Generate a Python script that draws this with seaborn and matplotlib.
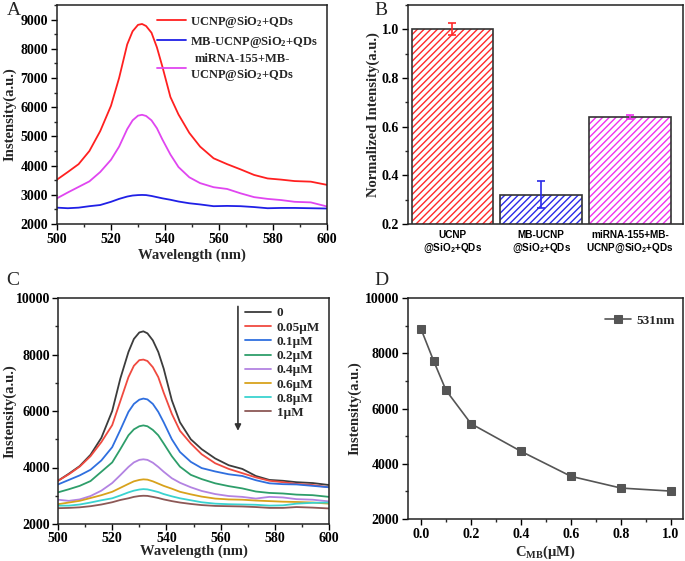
import numpy as np
import pandas as pd
import matplotlib
matplotlib.use("Agg")
import matplotlib.pyplot as plt
from matplotlib.patches import Rectangle
from matplotlib.ticker import MultipleLocator
import seaborn as sns

# wavelength grid shared by the spectra (nm)
wavelength = [500, 504, 508, 512, 516, 520, 523, 526, 528, 530, 531.5, 533, 535, 537,
              539, 542, 545, 549, 553, 558, 563, 568, 573, 578, 583, 588, 594, 600]

# panel A spectra
a_ucnp = [3520, 3780, 4050, 4500, 5180, 6050, 7000, 8150, 8600, 8820, 8850, 8780, 8550, 8050,
          7400, 6350, 5750, 5120, 4650, 4250, 4050, 3870, 3680, 3560, 3520, 3470, 3450, 3340]
a_mb = [2560, 2540, 2560, 2610, 2650, 2760, 2860, 2940, 2975, 2990, 2995, 2990, 2960, 2920,
        2880, 2830, 2770, 2710, 2670, 2610, 2620, 2610, 2580, 2540, 2550, 2550, 2540, 2530]
a_mirna = [2880, 3080, 3270, 3460, 3780, 4200, 4650, 5250, 5550, 5710, 5740, 5700, 5550, 5280,
           4900, 4380, 3950, 3600, 3400, 3260, 3200, 3050, 2920, 2860, 2820, 2760, 2740, 2600]
a_labels = ["UCNP@SiO$_2$+QDs", "MB-UCNP@SiO$_2$+QDs", "miRNA-155+MB-\nUCNP@SiO$_2$+QDs"]

# panel B normalized intensities
b_names = ["UCNP\n@SiO$_{\\mathsf{2}}$+QDs", "MB-UCNP\n@SiO$_{\\mathsf{2}}$+QDs",
           "miRNA-155+MB-\nUCNP@SiO$_{\\mathsf{2}}$+QDs"]
b_values = [1.0, 0.32, 0.64]
b_errors = [0.025, 0.055, 0.01]

# panel C spectra by concentration
c_labels = ["0", "0.05\u03bcM", "0.1\u03bcM", "0.2\u03bcM", "0.4\u03bcM", "0.6\u03bcM", "0.8\u03bcM", "1\u03bcM"]
c_0 = [3530, 3780, 4050, 4450, 5050, 6000, 7150, 8090, 8550, 8780, 8820, 8750, 8500, 8090,
       7500, 6380, 5600, 5000, 4650, 4320, 4080, 3950, 3700, 3560, 3530, 3480, 3450, 3380]
c_005 = [3530, 3760, 4030, 4400, 4900, 5500, 6350, 7200, 7600, 7800, 7820, 7770, 7550, 7200,
         6650, 5900, 5300, 4850, 4470, 4150, 3950, 3800, 3650, 3530, 3480, 3420, 3380, 3300]
c_01 = [3400, 3560, 3720, 3920, 4250, 4720, 5330, 5970, 6250, 6400, 6440, 6410, 6250, 5970,
        5600, 5000, 4550, 4200, 3980, 3860, 3760, 3700, 3550, 3440, 3410, 3400, 3350, 3300]
c_02 = [3120, 3230, 3350, 3520, 3850, 4180, 4650, 5140, 5350, 5460, 5490, 5460, 5330, 5140,
        4850, 4400, 4030, 3740, 3590, 3440, 3340, 3260, 3150, 3100, 3080, 3040, 3020, 2960]
c_04 = [2860, 2820, 2870, 2990, 3180, 3450, 3730, 4020, 4180, 4270, 4290, 4270, 4170, 4020,
        3850, 3620, 3460, 3300, 3170, 3060, 2990, 2960, 2900, 2960, 2940, 2880, 2860, 2800]
c_06 = [2700, 2760, 2820, 2920, 3020, 3140, 3280, 3420, 3510, 3560, 3580, 3570, 3510, 3430,
        3350, 3250, 3140, 3050, 2970, 2900, 2870, 2860, 2830, 2810, 2790, 2780, 2760, 2720]
c_08 = [2650, 2650, 2690, 2760, 2840, 2910, 3010, 3120, 3180, 3220, 3235, 3225, 3180, 3130,
        3060, 2980, 2910, 2840, 2770, 2720, 2700, 2690, 2680, 2650, 2660, 2720, 2750, 2760]
c_1 = [2560, 2570, 2590, 2630, 2690, 2770, 2850, 2910, 2960, 2990, 3000, 2995, 2960, 2920,
       2870, 2810, 2760, 2710, 2670, 2640, 2630, 2620, 2600, 2570, 2570, 2600, 2580, 2550]
c_colors = ["#3c3c3c", "#f04a40", "#2f6fdf", "#2e9e6a", "#b383e2", "#d8a21c", "#3ad3d0", "#8c5856"]

# panel D intensity at 531 nm
d_conc = [0.0, 0.05, 0.1, 0.2, 0.4, 0.6, 0.8, 1.0]
d_intensity = [8880, 7735, 6660, 5450, 4450, 3545, 3120, 3010]

sns.set_style("ticks")
plt.rcParams["font.family"] = ["Liberation Serif", "DejaVu Serif"]
plt.rcParams["font.weight"] = "bold"
plt.rcParams["axes.labelweight"] = "bold"
plt.rcParams["mathtext.fontset"] = "custom"
plt.rcParams["mathtext.rm"] = "Liberation Serif:bold"
plt.rcParams["mathtext.bf"] = "Liberation Serif:bold"
plt.rcParams["mathtext.it"] = "Liberation Serif:italic:bold"
plt.rcParams["mathtext.sf"] = "Liberation Sans:bold"
plt.rcParams["mathtext.default"] = "rm"
plt.rcParams["axes.linewidth"] = 1.1
plt.rcParams["axes.edgecolor"] = "#222222"
plt.rcParams["xtick.direction"] = "out"
plt.rcParams["ytick.direction"] = "out"
plt.rcParams["hatch.linewidth"] = 1.0

fig = plt.figure(figsize=(6.85, 5.61), dpi=100)
W, H = 685, 561


def box(l, t, r, b):
    return [l / W, 1 - b / H, (r - l) / W, (b - t) / H]


def style(ax, fs=10):
    for s in ax.spines.values():
        s.set_visible(True)
        s.set_color("#222222")
    ax.tick_params(which="major", length=4, width=1, labelsize=fs, colors="black", pad=2.5)
    ax.tick_params(which="minor", length=2.5, width=1)
    for t in ax.get_xticklabels() + ax.get_yticklabels():
        t.set_fontweight("bold")


# ---- A ----
axA = fig.add_axes(box(57, 5, 327, 224))
for vals, col, lab in zip([a_ucnp, a_mb, a_mirna], ["#ff2020", "#2020e6", "#e046f0"], a_labels):
    sns.lineplot(x=wavelength, y=vals, color=col, lw=1.3, label=lab, ax=axA)
axA.set_xlim(500, 600)
axA.set_ylim(2000, 9500)
axA.xaxis.set_major_locator(MultipleLocator(20))
axA.xaxis.set_minor_locator(MultipleLocator(10))
axA.yaxis.set_major_locator(MultipleLocator(1000))
axA.yaxis.set_minor_locator(MultipleLocator(500))
axA.set_xlabel("Wavelength (nm)", fontsize=10.5, labelpad=2)
axA.set_ylabel("Instensity(a.u.)", fontsize=10.5, labelpad=3)
legA = axA.legend(loc="upper right", frameon=False, fontsize=9, handlelength=2.3,
                  borderaxespad=0.3, labelspacing=0.3, handletextpad=0.35)
legA.get_texts()[2].set_multialignment("center")
style(axA)

# ---- B ----
axB = fig.add_axes(box(408, 5, 683, 224))
b_colors = ["#ff2a2a", "#2a2ae8", "#ee33ee"]
dfB = pd.DataFrame({"name": b_names, "value": b_values})
sns.barplot(data=dfB, x="name", y="value", hue="name", palette=b_colors, width=0.92,
            errorbar=None, legend=False, ax=axB)
for p, col in zip(axB.patches, b_colors):
    p.set_facecolor("white")
    p.set_edgecolor(col)
    p.set_hatch("/////")
    p.set_linewidth(0)
    axB.add_patch(Rectangle(p.get_xy(), p.get_width(), p.get_height(), fill=False,
                            edgecolor="#333333", lw=1.2, zorder=3))
for i, (v, e, col) in enumerate(zip(b_values, b_errors, b_colors)):
    axB.errorbar(i, v, yerr=e, color=col, capsize=3, elinewidth=1.2, capthick=1.2, zorder=4)
axB.set_xlim(-0.5, 2.6)
axB.set_ylim(0.2, 1.1)
axB.yaxis.set_major_locator(MultipleLocator(0.2))
axB.yaxis.set_minor_locator(MultipleLocator(0.1))
axB.set_xlabel("")
axB.set_ylabel("Normalized Intensity(a.u.)", fontsize=10.5, labelpad=1)
style(axB)
axB.tick_params(axis="x", length=0, pad=4)
for t in axB.get_xticklabels():
    t.set_fontfamily("Liberation Sans")
    t.set_fontsize(7.2)
    t.set_fontweight("bold")

# ---- C ----
axC = fig.add_axes(box(58, 298, 329, 524))
for vals, col, lab in zip([c_0, c_005, c_01, c_02, c_04, c_06, c_08, c_1], c_colors, c_labels):
    sns.lineplot(x=wavelength, y=vals, color=col, lw=1.3, label=lab, ax=axC)
axC.set_xlim(500, 600)
axC.set_ylim(2000, 10000)
axC.xaxis.set_major_locator(MultipleLocator(20))
axC.xaxis.set_minor_locator(MultipleLocator(10))
axC.yaxis.set_major_locator(MultipleLocator(2000))
axC.yaxis.set_minor_locator(MultipleLocator(1000))
axC.set_xlabel("Wavelength (nm)", fontsize=10.5, labelpad=0)
axC.set_ylabel("Instensity(a.u.)", fontsize=10.5, labelpad=0)
axC.legend(loc="upper right", frameon=False, fontsize=9.5, handlelength=2.0,
           borderaxespad=0.3, labelspacing=0.15, handletextpad=0.4)
axC.annotate("", xy=(0.664, 0.40), xytext=(0.664, 0.975), xycoords="axes fraction",
             arrowprops=dict(arrowstyle="-|>", color="#333333", lw=1.2, mutation_scale=9))
style(axC)
axC.tick_params(axis="both", which="major", pad=1.5)

# ---- D ----
axD = fig.add_axes(box(408, 298, 683, 519))
sns.lineplot(x=d_conc, y=d_intensity, color="#555555", lw=1.2, marker="s", markersize=5.5,
             markeredgecolor="#555555", label="531nm", ax=axD)
axD.set_xlim(-0.052, 1.048)
axD.set_ylim(2000, 10000)
axD.xaxis.set_major_locator(MultipleLocator(0.2))
axD.xaxis.set_minor_locator(MultipleLocator(0.1))
axD.yaxis.set_major_locator(MultipleLocator(2000))
axD.yaxis.set_minor_locator(MultipleLocator(1000))
axD.set_xlabel("C$_{\\mathrm{MB}}$(\u03bcM)", fontsize=10.5, labelpad=2)
axD.set_ylabel("Instensity(a.u.)", fontsize=10.5, labelpad=2)
axD.legend(loc="upper right", bbox_to_anchor=(1.0, 0.96), frameon=False, fontsize=9.5,
           handlelength=2.0, borderaxespad=0.2, handletextpad=0.4)
style(axD)

# panel letters
for lab, x, y in [("A", 7, 2), ("B", 374, 2), ("C", 6, 272), ("D", 374, 272)]:
    fig.text(x / W, 1 - y / H, lab, fontsize=14, fontweight="normal", va="top", ha="left")

fig.savefig("out.png", dpi=100)
